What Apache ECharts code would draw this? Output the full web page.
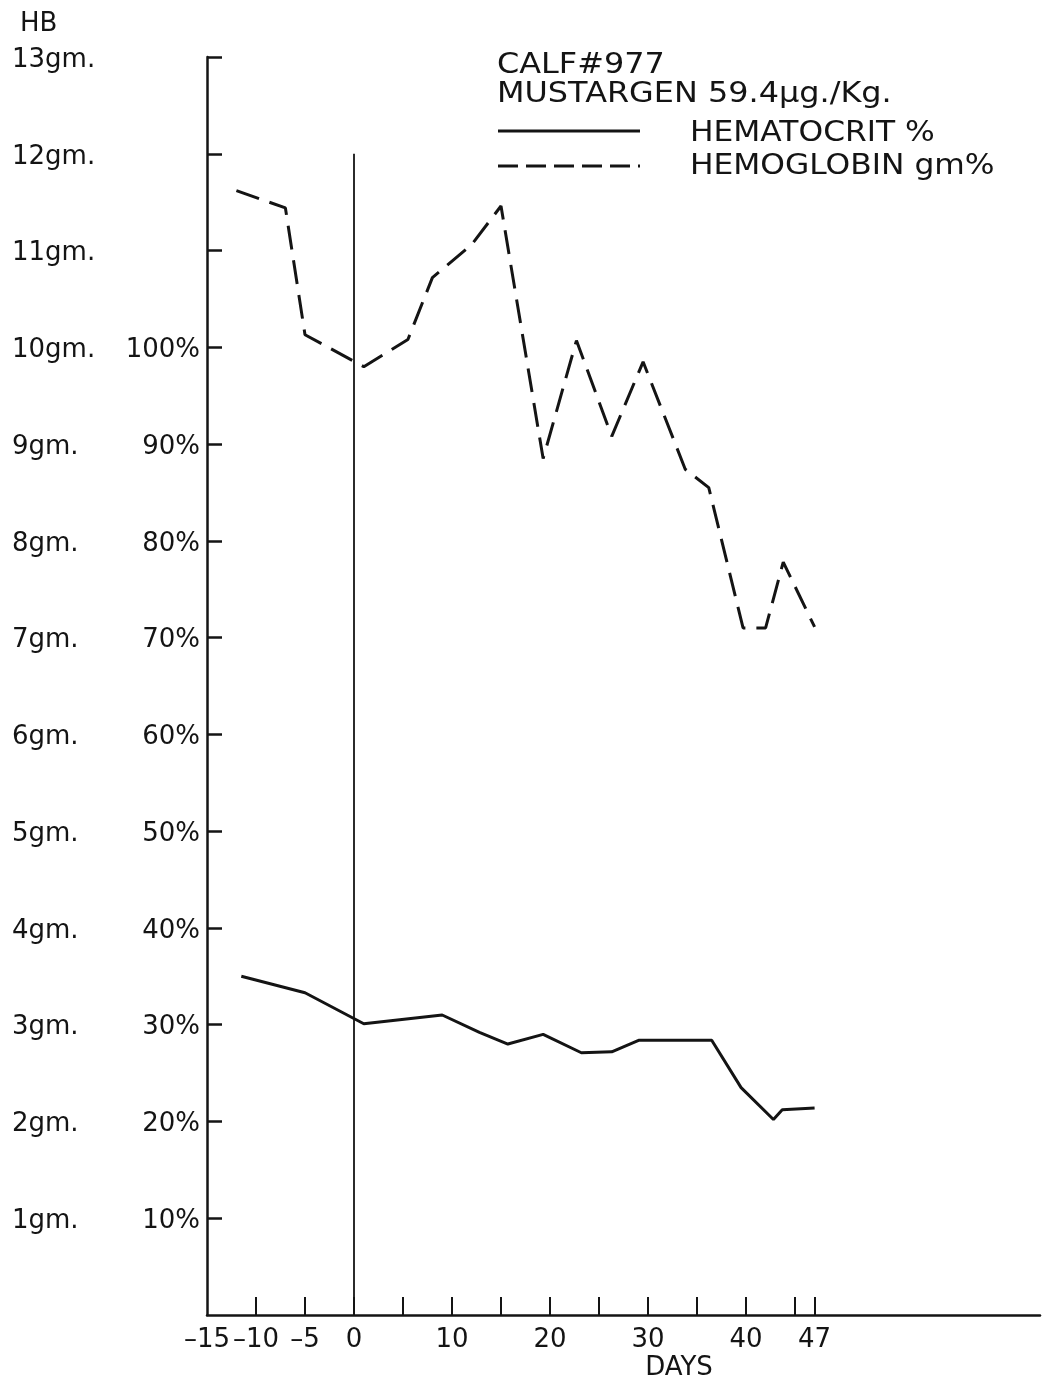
<!DOCTYPE html>
<html>
<head>
<meta charset="utf-8">
<script src="https://cdn.jsdelivr.net/npm/echarts@6/dist/echarts.min.js"></script>
<style>
html,body{margin:0;padding:0;background:#fff;}
#c{width:1045px;height:1386px;}
</style>
</head>
<body>
<div id="c"></div>
<script>
// ---- data ----
const hbDays  = [-12, -7, -5, 1, 5.5, 8, 12, 15, 19.3, 22.7, 26.3, 29.5, 33.8, 36.2, 39.7, 42, 43.8, 47];
const hbGm    = [11.62, 11.44, 10.13, 9.8, 10.08, 10.72, 11.06, 11.46, 8.85, 10.07, 9.08, 9.85, 8.74, 8.55, 7.1, 7.1, 7.78, 7.11];
const hctDays = [-11.5, -5, 1, 9, 12.8, 15.7, 19.3, 23.2, 26.3, 29.1, 36.5, 39.5, 42.8, 43.7, 47];
const hctPct  = [35.0, 33.3, 30.1, 31.0, 29.2, 28.0, 29.0, 27.1, 27.2, 28.4, 28.4, 23.5, 20.2, 21.2, 21.4];
const day0X   = [0, 0];
const day0Y   = [0, 12];
const xTicks  = [-10, -5, 0, 5, 10, 15, 20, 25, 30, 35, 40, 45, 47];
const xLabels = [-15, -10, -5, 0, 10, 20, 30, 40, 47];
const yTicks  = [1, 2, 3, 4, 5, 6, 7, 8, 9, 10, 11, 12, 13];

const INK = '#141414';
const FONT = '"DejaVu Sans", sans-serif';

const hbData = hbDays.map((d, i) => [d, hbGm[i]]);
const hctData = hctDays.map((d, i) => [d, hctPct[i] / 10]);
const day0Data = day0X.map((d, i) => [d, day0Y[i]]);

const chart = echarts.init(document.getElementById('c'), null, {renderer: 'canvas'});
chart.setOption({
  backgroundColor: '#fff',
  animation: false,
  grid: {left: 207, right: 5, top: 57, bottom: 71},
  xAxis: {
    type: 'value', min: -15, max: 70, interval: 5,
    splitLine: {show: false},
    axisLine: {onZero: false, lineStyle: {color: INK, width: 2.5}},
    axisTick: {inside: true, length: 18, lineStyle: {color: INK, width: 2}, customValues: xTicks},
    axisLabel: {
      customValues: xLabels, margin: 12, color: INK, fontFamily: FONT, fontSize: 26,
      showMinLabel: true, hideOverlap: false,
      formatter: v => (v < 0 ? '\u2013' + Math.abs(v) : String(v))
    }
  },
  yAxis: {
    type: 'value', min: 0, max: 13, interval: 1,
    splitLine: {show: false},
    axisLine: {onZero: false, lineStyle: {color: INK, width: 2.5}},
    axisTick: {inside: true, length: 15, lineStyle: {color: INK, width: 2.5}, customValues: yTicks},
    axisLabel: {
      customValues: yTicks, margin: 7, color: INK, fontFamily: FONT, fontSize: 26,
      formatter: v => '{g|' + v + 'gm.}{p|' + (v <= 10 ? (v * 10) + '%' : '') + '}',
      rich: {
        g: {width: 100, align: 'left', fontFamily: FONT, fontSize: 26, color: INK, padding: [6, 0, 0, 0]},
        p: {width: 88, align: 'right', fontFamily: FONT, fontSize: 26, color: INK, padding: [6, 0, 0, 0]}
      }
    }
  },
  series: [
    {name: 'HEMATOCRIT %', type: 'line', data: hctData, showSymbol: false, silent: true,
     lineStyle: {color: INK, width: 3}},
    {name: 'HEMOGLOBIN gm%', type: 'line', data: hbData, showSymbol: false, silent: true,
     lineStyle: {color: INK, width: 3, type: [24, 11]}},
    {name: 'day0', type: 'line', data: day0Data, showSymbol: false, silent: true,
     lineStyle: {color: INK, width: 1.8}}
  ],
  graphic: [
    {type: 'text', x: 20, y: 24, style: {text: 'HB', font: '26px ' + FONT, fill: INK, verticalAlign: 'middle'}},
    {type: 'text', x: 497, y: 65, scaleX: 1.1, style: {text: 'CALF#977', font: '29px ' + FONT, fill: INK, verticalAlign: 'middle'}},
    {type: 'text', x: 497, y: 94, scaleX: 1.1, style: {text: 'MUSTARGEN 59.4\u03bcg./Kg.', font: '29px ' + FONT, fill: INK, verticalAlign: 'middle'}},
    {type: 'line', shape: {x1: 498, y1: 131, x2: 640, y2: 131}, style: {stroke: INK, lineWidth: 3}},
    {type: 'line', shape: {x1: 498, y1: 166, x2: 640, y2: 166}, style: {stroke: INK, lineWidth: 3, lineDash: [20, 8]}},
    {type: 'text', x: 690, y: 133, scaleX: 1.08, style: {text: 'HEMATOCRIT %', font: '29px ' + FONT, fill: INK, verticalAlign: 'middle'}},
    {type: 'text', x: 690, y: 166, scaleX: 1.08, style: {text: 'HEMOGLOBIN gm%', font: '29px ' + FONT, fill: INK, verticalAlign: 'middle'}},
    {type: 'text', x: 679, y: 1368, style: {text: 'DAYS', font: '26px ' + FONT, fill: INK, align: 'center', verticalAlign: 'middle'}}
  ]
});
</script>
</body>
</html>
